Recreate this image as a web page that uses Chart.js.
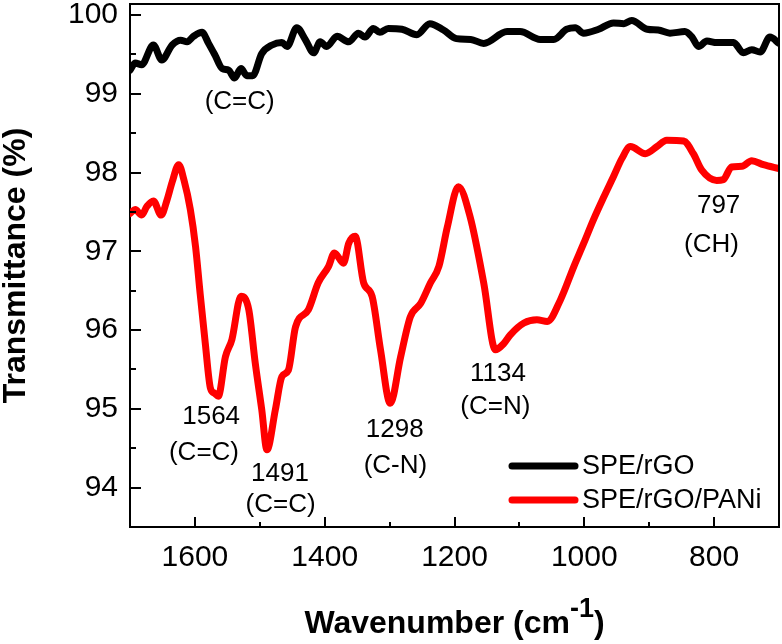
<!DOCTYPE html>
<html>
<head>
<meta charset="utf-8">
<script src="https://cdn.jsdelivr.net/npm/chart.js@4/dist/chart.umd.min.js"></script>
<style>
  html, body { margin: 0; padding: 0; background: #fff; }
</style>
</head>
<body>
<canvas id="ftirChart" width="782" height="644"></canvas>
<script>
// FTIR spectra (wavenumber in cm-1, transmittance in %)
const rgoWave = [1700, 1692, 1682, 1664, 1651, 1635, 1622, 1612, 1602, 1589, 1579, 1569, 1558, 1548, 1539, 1529, 1520, 1511,
  1497, 1481, 1466, 1458, 1443, 1430, 1417, 1407, 1397, 1381, 1363, 1348, 1338, 1325, 1315, 1302, 1281, 1258, 1238, 1217,
  1197, 1175, 1155, 1119, 1099, 1068, 1047, 1027, 1014, 1001, 978, 955, 939, 927, 903, 886, 868, 845, 834, 824, 811, 796,
  770, 755, 742, 729, 714, 700];
const rgoTrans = [99.30, 99.39, 99.37, 99.62, 99.43, 99.62, 99.68, 99.66, 99.73, 99.78, 99.64, 99.49, 99.32, 99.30, 99.20, 99.32, 99.23, 99.23,
  99.51, 99.62, 99.65, 99.60, 99.84, 99.69, 99.52, 99.66, 99.60, 99.73, 99.66, 99.77, 99.72, 99.83, 99.78, 99.83, 99.82, 99.75, 99.89, 99.81,
  99.70, 99.69, 99.64, 99.79, 99.79, 99.69, 99.69, 99.82, 99.84, 99.77, 99.82, 99.90, 99.89, 99.93, 99.82, 99.81, 99.77, 99.79, 99.72, 99.60, 99.67, 99.65,
  99.65, 99.52, 99.56, 99.53, 99.72, 99.64];

const paniWave = [1700, 1692, 1682, 1674, 1664, 1652, 1643, 1635, 1625, 1617, 1607, 1599, 1592, 1584, 1576, 1570, 1564, 1553, 1543,
  1529, 1517, 1507, 1497, 1489, 1476, 1466, 1456, 1445, 1425, 1410, 1394, 1385, 1371, 1363, 1353, 1340, 1327, 1314, 1299,
  1283, 1268, 1252, 1237, 1224, 1211, 1194, 1176, 1155, 1137, 1124, 1114, 1093, 1073, 1057, 1037, 1016, 1001, 986, 970,
  955, 942, 929, 906, 888, 873, 847, 832, 819, 796, 786, 773, 757, 742, 724, 700];
const paniTrans = [97.48, 97.53, 97.46, 97.57, 97.64, 97.46, 97.65, 97.88, 98.10, 97.91, 97.53, 97.06, 96.47, 95.83, 95.26, 95.20, 95.16, 95.66, 95.88,
  96.43, 96.26, 95.58, 94.99, 94.48, 94.99, 95.41, 95.49, 96.04, 96.26, 96.60, 96.81, 96.98, 96.85, 97.10, 97.19, 96.60, 96.43, 95.75, 95.07,
  95.66, 96.17, 96.34, 96.60, 96.81, 97.31, 97.82, 97.44, 96.60, 95.75, 95.83, 95.94, 96.09, 96.13, 96.11, 96.38, 96.81, 97.10, 97.40, 97.69,
  97.95, 98.18, 98.33, 98.24, 98.33, 98.41, 98.40, 98.24, 98.03, 97.90, 97.91, 98.07, 98.08, 98.15, 98.10, 98.05];

const xTickValues = [1600, 1500, 1400, 1300, 1200, 1100, 1000, 900, 800];
const yTickValues = [94, 94.5, 95, 95.5, 96, 96.5, 97, 97.5, 98, 98.5, 99, 99.5, 100];

// peak labels, anchored in data units
const peakLabels = [
  { text: '(C=C)', x: 1531, y: 98.90 },
  { text: '1564', x: 1575, y: 94.90 },
  { text: '(C=C)', x: 1586, y: 94.44 },
  { text: '1491', x: 1469, y: 94.18 },
  { text: '(C=C)', x: 1468, y: 93.78 },
  { text: '1298', x: 1292, y: 94.73 },
  { text: '(C-N)', x: 1291, y: 94.28 },
  { text: '1134', x: 1133, y: 95.44 },
  { text: '(C=N)', x: 1137, y: 95.03 },
  { text: '797', x: 793, y: 97.58 },
  { text: '(CH)', x: 804, y: 97.08 }
];

const FONT = '"Liberation Sans", Arial, sans-serif';
Chart.defaults.font.family = FONT;
Chart.defaults.color = '#000';

function toPoints(xs, ys) {
  return xs.map((x, i) => ({ x: x, y: ys[i] }));
}

// no label overflow padding, keep the plot box where the figure has it
function fixBox(scale, prop, size) {
  scale[prop] = size;
  scale.paddingTop = 0;
  scale.paddingBottom = 0;
  scale.paddingLeft = 0;
  scale.paddingRight = 0;
}

// inward tick marks + top/right frame
const framePlugin = {
  id: 'frame',
  afterDraw(chart) {
    const ctx = chart.ctx;
    const area = chart.chartArea;
    const xs = chart.scales.x;
    const ys = chart.scales.y;
    ctx.save();
    ctx.strokeStyle = '#000';
    ctx.lineWidth = 2;
    ctx.beginPath();
    ctx.moveTo(area.left, area.top);
    ctx.lineTo(area.right, area.top);
    ctx.lineTo(area.right, area.bottom);
    ctx.stroke();

    ctx.beginPath();
    xTickValues.forEach(v => {
      const px = Math.round(xs.getPixelForValue(v));
      const len = v % 200 === 0 ? 10 : 5;
      ctx.moveTo(px, area.bottom);
      ctx.lineTo(px, area.bottom - len);
    });
    yTickValues.forEach(v => {
      const py = Math.round(ys.getPixelForValue(v));
      const len = Number.isInteger(v) ? 11 : 6;
      ctx.moveTo(area.left, py);
      ctx.lineTo(area.left + len, py);
    });
    ctx.stroke();
    ctx.restore();
  }
};

// peak annotations
const peakLabelPlugin = {
  id: 'peakLabels',
  afterDatasetsDraw(chart) {
    const ctx = chart.ctx;
    ctx.save();
    ctx.fillStyle = '#000';
    ctx.font = '26px ' + FONT;
    ctx.textAlign = 'center';
    ctx.textBaseline = 'middle';
    peakLabels.forEach(p => {
      ctx.fillText(p.text, chart.scales.x.getPixelForValue(p.x), chart.scales.y.getPixelForValue(p.y));
    });
    ctx.restore();
  }
};

// legend inside the plot, bottom right
const insideLegend = {
  id: 'insideLegend',
  afterDatasetsDraw(chart) {
    const ctx = chart.ctx;
    const area = chart.chartArea;
    const x0 = area.right - 267;
    ctx.save();
    ctx.font = '27px ' + FONT;
    ctx.textBaseline = 'middle';
    ctx.lineCap = 'round';
    chart.data.datasets.forEach((ds, i) => {
      const y = area.bottom - 61 + i * 34;
      ctx.strokeStyle = ds.borderColor;
      ctx.lineWidth = 7;
      ctx.beginPath();
      ctx.moveTo(x0, y);
      ctx.lineTo(x0 + 63, y);
      ctx.stroke();
      ctx.fillStyle = '#000';
      ctx.fillText(ds.label, x0 + 70, y + 1);
    });
    ctx.restore();
  }
};

// x title with superscript
const xTitlePlugin = {
  id: 'xTitle',
  afterDraw(chart) {
    const ctx = chart.ctx;
    const area = chart.chartArea;
    const main = 'Wavenumber (cm';
    const sup = '-1';
    const close = ')';
    ctx.save();
    ctx.fillStyle = '#000';
    ctx.textBaseline = 'alphabetic';
    ctx.textAlign = 'left';
    ctx.font = 'bold 32px ' + FONT;
    const wMain = ctx.measureText(main).width;
    const wClose = ctx.measureText(close).width;
    ctx.font = 'bold 27px ' + FONT;
    const wSup = ctx.measureText(sup).width;
    let x = (area.left + area.right) / 2 - (wMain + wSup + wClose) / 2;
    const base = 633;
    ctx.font = 'bold 32px ' + FONT;
    ctx.fillText(main, x, base);
    x += wMain;
    ctx.font = 'bold 27px ' + FONT;
    ctx.fillText(sup, x, base - 16);
    x += wSup;
    ctx.font = 'bold 32px ' + FONT;
    ctx.fillText(close, x, base);
    ctx.restore();
  }
};

const ctx = document.getElementById('ftirChart').getContext('2d');
new Chart(ctx, {
  type: 'line',
  data: {
    datasets: [
      {
        label: 'SPE/rGO',
        data: toPoints(rgoWave, rgoTrans),
        borderColor: '#000000',
        borderWidth: 7,
        pointRadius: 0,
        cubicInterpolationMode: 'monotone',
        borderJoinStyle: 'round',
        borderCapStyle: 'round'
      },
      {
        label: 'SPE/rGO/PANi',
        data: toPoints(paniWave, paniTrans),
        borderColor: '#ff0000',
        borderWidth: 7,
        pointRadius: 0,
        cubicInterpolationMode: 'monotone',
        borderJoinStyle: 'round',
        borderCapStyle: 'round'
      }
    ]
  },
  options: {
    responsive: false,
    animation: false,
    layout: { padding: { top: 4, right: 3, left: 0, bottom: 0 } },
    plugins: {
      legend: { display: false },
      tooltip: { enabled: false }
    },
    scales: {
      x: {
        type: 'linear',
        reverse: true,
        min: 700,
        max: 1700,
        afterBuildTicks: scale => { scale.ticks = xTickValues.map(v => ({ value: v })); },
        afterFit: scale => fixBox(scale, 'height', 117),
        grid: { display: false, drawTicks: false },
        border: { display: true, color: '#000', width: 2 },
        ticks: {
          autoSkip: false,
          maxRotation: 0,
          padding: 13,
          font: { size: 30 },
          color: '#000',
          callback: v => (v % 200 === 0 ? String(v) : '')
        }
      },
      y: {
        min: 93.5,
        max: 100.14,
        afterBuildTicks: scale => { scale.ticks = yTickValues.map(v => ({ value: v })); },
        afterFit: scale => fixBox(scale, 'width', 130),
        grid: { display: false, drawTicks: false },
        border: { display: true, color: '#000', width: 2 },
        title: {
          display: true,
          text: 'Transmittance (%)',
          font: { size: 32, weight: 'bold', lineHeight: 1 },
          color: '#000',
          padding: 0
        },
        ticks: {
          autoSkip: false,
          padding: 12,
          font: { size: 30 },
          color: '#000',
          callback: v => (Number.isInteger(v) ? String(v) : '')
        }
      }
    }
  },
  plugins: [framePlugin, peakLabelPlugin, insideLegend, xTitlePlugin]
});
</script>
</body>
</html>
